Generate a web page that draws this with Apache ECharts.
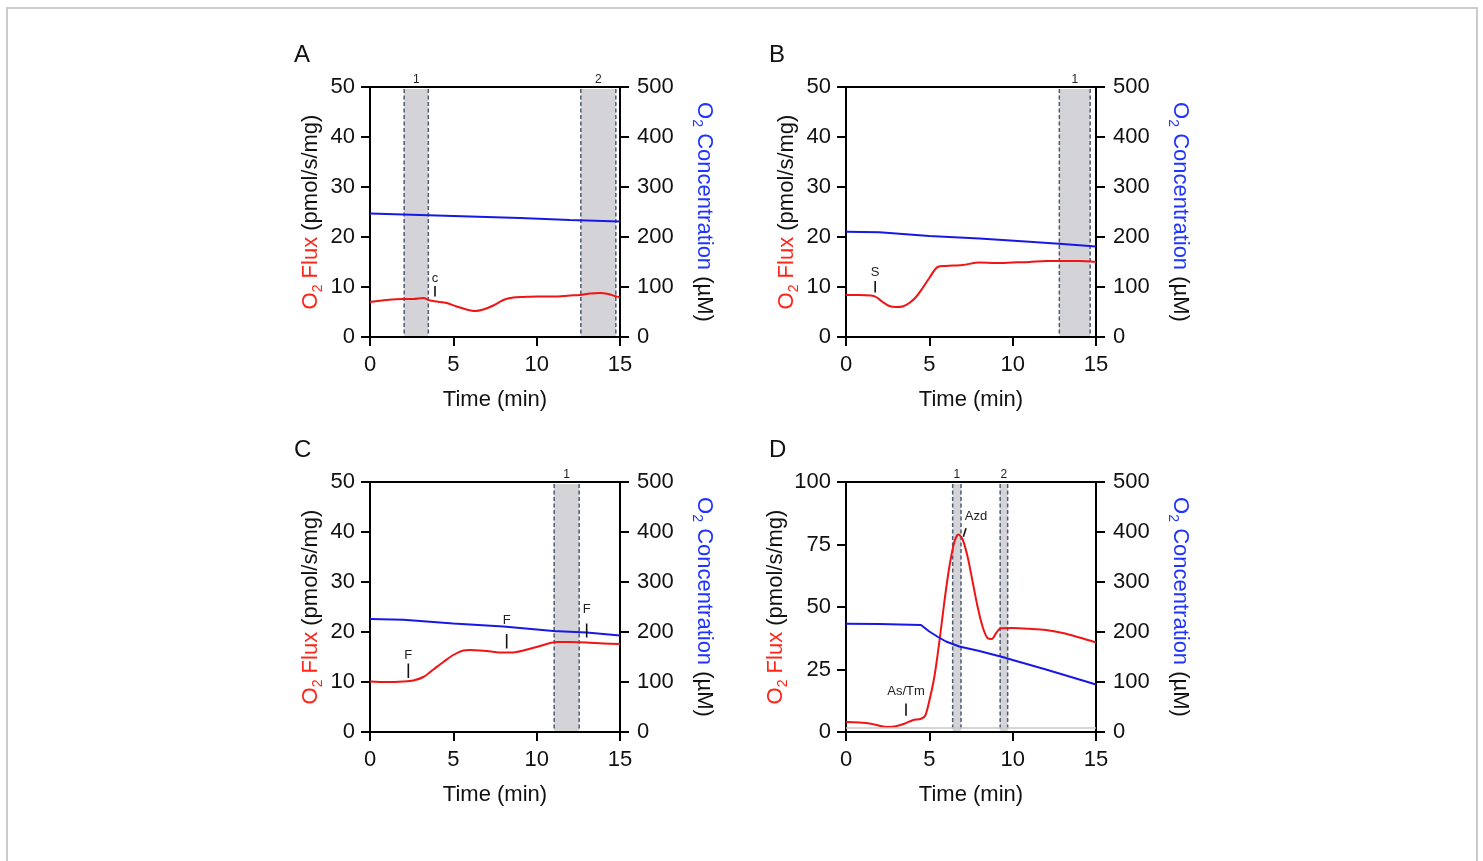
<!DOCTYPE html>
<html><head><meta charset="utf-8">
<script src="https://cdn.jsdelivr.net/npm/echarts@6/dist/echarts.min.js"></script>
<style>html,body{margin:0;padding:0;background:#fff}#c{width:1483px;height:861px}</style>
</head><body><div id="c"></div>
<script>
// ---------- DATA ----------
// Panel A
const timeA = [0,1,2,2.6,3.2,3.6,4,4.6,5.2,5.8,6.3,6.8,7.4,8,8.6,9.2,10,11,12,12.6,13.2,13.8,14.3,14.7,15];
const fluxA = [7.0,7.4,7.6,7.6,7.8,7.3,7.1,6.8,6.1,5.5,5.2,5.5,6.3,7.4,7.9,8.0,8.1,8.1,8.3,8.4,8.7,8.8,8.6,8.2,7.9];
const concTimeA = [0,3,6,9,12,15];
const concA = [247,244,241,238,234,231];
const bandsA = [[2.05,3.5],[12.65,14.75]];
const bandLabelsA = ['1','2'];
const marksA = [[3.9,8.1,3.9,10.2,3.9,11.8]];
const markLabelsA = ['c'];
// Panel B
const timeB = [0,0.8,1.5,1.8,2.2,2.6,3.0,3.4,3.8,4.2,4.6,5.0,5.5,6,7,8,9,10,11,12,13,14,15];
const fluxB = [8.4,8.4,8.3,8.0,7.0,6.2,6.0,6.1,6.8,8.0,9.8,11.8,14.0,14.2,14.4,14.9,14.8,14.9,15.0,15.2,15.2,15.2,15.0];
const concTimeB = [0,2,5,8,11,13,15];
const concB = [210.5,209.5,202,197,190.5,186,181];
const bandsB = [[12.8,14.65]];
const bandLabelsB = ['1'];
const marksB = [[1.75,8.9,1.75,11.2,1.75,12.9]];
const markLabelsB = ['S'];
// Panel C
const timeC = [0,1,2,2.6,3.2,3.8,4.4,5,5.6,6,7,8,8.6,9.2,10,10.6,11.2,12,13,14,15];
const fluxC = [10.1,10.0,10.1,10.3,11.0,12.5,14.0,15.4,16.3,16.4,16.2,15.9,15.9,16.3,17.0,17.6,18.0,18.0,17.9,17.7,17.6];
const concTimeC = [0,2,5,8,11,13,15];
const concC = [226,224.5,217,211,202,199,193];
const bandsC = [[11.05,12.55]];
const bandLabelsC = ['1'];
const marksC = [[2.3,10.8,2.3,13.7,2.3,15.4],[8.2,16.7,8.2,19.6,8.2,22.4],[13.0,18.9,13.0,21.7,13.0,24.6]];
const markLabelsC = ['F','F','F'];
// Panel D
const timeD = [0,0.8,1.5,2,2.5,3,3.5,4,4.5,4.75,5,5.3,5.6,5.9,6.2,6.5,6.75,7,7.3,7.6,7.9,8.2,8.5,8.75,9,9.3,10,11,12,13,14,15];
const fluxD = [4.0,3.8,3.3,2.5,2.0,2.3,3.3,4.7,5.3,6.5,12.5,22,36,52,66,76,79,77,70,60,50,42,37.5,37.2,39.5,41.5,41.6,41.3,40.8,39.6,37.8,35.8];
const concTimeD = [0,2,4.5,5,5.5,6,6.8,8,9.5,10,12,14,15];
const concD = [216.6,216,214,201,190.5,181,171,162,149,144,125,105,95];
const bandsD = [[6.4,6.9],[9.25,9.7]];
const bandLabelsD = ['1','2'];
const marksD = [[3.6,6.5,3.6,11.4,3.6,16.3],[7.04,78.1,7.2,81.5,7.8,86.1]];
const markLabelsD = ['As/Tm','Azd'];
const baselineD = 1.6;

// ---------- STYLE ----------
const FONT = '"Liberation Sans", Arial, Helvetica, sans-serif';
const RED = '#f01414', RED_T = '#ff2418';
const BLUE = '#1818e6', BLUE_T = '#1f35ff';
const INK = '#111';

const panels = [
  {letter:'A', left:370, top:87, fmax:50, fint:10, fT:timeA, f:fluxA, cT:concTimeA, c:concA, bands:bandsA, bl:bandLabelsA, marks:marksA, ml:markLabelsA},
  {letter:'B', left:846, top:87, fmax:50, fint:10, fT:timeB, f:fluxB, cT:concTimeB, c:concB, bands:bandsB, bl:bandLabelsB, marks:marksB, ml:markLabelsB},
  {letter:'C', left:370, top:482, fmax:50, fint:10, fT:timeC, f:fluxC, cT:concTimeC, c:concC, bands:bandsC, bl:bandLabelsC, marks:marksC, ml:markLabelsC},
  {letter:'D', left:846, top:482, fmax:100, fint:25, fT:timeD, f:fluxD, cT:concTimeD, c:concD, bands:bandsD, bl:bandLabelsD, marks:marksD, ml:markLabelsD, baseline:baselineD}
];

const grids=[], xAxes=[], yAxes=[], series=[], graphics=[];
const axisLine = {onZero:false, lineStyle:{color:'#000', width:2}};
const axisTick = {length:9, lineStyle:{color:'#000', width:2}};
const lbl = (m)=>({fontSize:22, color:INK, fontFamily:FONT, margin:m});

panels.forEach((p,i)=>{
  grids.push({left:p.left, top:p.top, width:250, height:250, show:true, borderColor:'#000', borderWidth:2, backgroundColor:'rgba(0,0,0,0)'});
  xAxes.push({gridIndex:i, type:'value', min:0, max:15, interval:5,
    name:'Time (min)', nameLocation:'middle', nameGap:52,
    nameTextStyle:{fontSize:22, color:INK, fontFamily:FONT},
    axisLine, axisTick, axisLabel:lbl(17), splitLine:{show:false}});
  yAxes.push({gridIndex:i, type:'value', position:'left', min:0, max:p.fmax, interval:p.fint,
    name:'{r|O}{rs|2}{r| Flux }{k|(pmol/s/mg)}', nameLocation:'middle', nameGap:45, nameRotate:90,
    nameTextStyle:{rich:{
      r:{color:RED_T, fontSize:22, fontFamily:FONT, lineHeight:28},
      rs:{color:RED_T, fontSize:14, fontFamily:FONT, lineHeight:15, verticalAlign:'bottom'},
      k:{color:INK, fontSize:22, fontFamily:FONT, lineHeight:28}}},
    axisLine, axisTick, axisLabel:lbl(15), splitLine:{show:false}});
  yAxes.push({gridIndex:i, type:'value', position:'right', min:0, max:500, interval:100,
    name:'{b|O}{bs|2}{b| Concentration }{k|(µM)}', nameLocation:'middle', nameGap:70, nameRotate:-90,
    nameTextStyle:{rich:{
      b:{color:BLUE_T, fontSize:22, fontFamily:FONT, lineHeight:28},
      bs:{color:BLUE_T, fontSize:14, fontFamily:FONT, lineHeight:15, verticalAlign:'bottom'},
      k:{color:INK, fontSize:22, fontFamily:FONT, lineHeight:28}}},
    axisLine, axisTick, axisLabel:lbl(17), splitLine:{show:false}});

  const fmax = p.fmax;
  // shaded analysis windows
  series.push({type:'custom', xAxisIndex:i, yAxisIndex:2*i, z:1, silent:true, clip:false,
    data:p.bands.map(b=>[b[0],b[1]]),
    renderItem:(params, api)=>{
      const x1=api.value(0), x2=api.value(1), k=params.dataIndex;
      const pb=api.coord([x1,0]), pt=api.coord([x2,fmax]);
      const top=pt[1]+2, bot=pb[1]-1;
      const ls={stroke:'#4d5a72', lineWidth:1.5, lineDash:[4,2.5]};
      return {type:'group', children:[
        {type:'rect', shape:{x:pb[0], y:top, width:pt[0]-pb[0], height:bot-top}, style:{fill:'#d3d3d8'}},
        {type:'line', shape:{x1:pb[0], y1:top, x2:pb[0], y2:bot}, style:ls},
        {type:'line', shape:{x1:pt[0], y1:top, x2:pt[0], y2:bot}, style:ls},
        {type:'text', x:(pb[0]+pt[0])/2, y:pt[1]-7, style:{text:p.bl[k], fill:'#222', fontSize:12, fontFamily:FONT, align:'center', verticalAlign:'middle'}}
      ]};
    }});
  // flux
  const fluxSeries = {type:'line', xAxisIndex:i, yAxisIndex:2*i, z:3, smooth:0.3, symbol:'none',
    data:p.fT.map((t,k)=>[t,p.f[k]]), lineStyle:{color:RED, width:2}};
  if (p.baseline !== undefined) {
    fluxSeries.markLine = {silent:true, symbol:'none', label:{show:false}, animation:false,
      lineStyle:{color:'#c9c9c9', width:1.5, type:'solid'},
      data:[[{coord:[0,p.baseline]},{coord:[15,p.baseline]}]]};
  }
  series.push(fluxSeries);
  // concentration
  series.push({type:'line', xAxisIndex:i, yAxisIndex:2*i+1, z:3, smooth:false, symbol:'none',
    data:p.cT.map((t,k)=>[t,p.c[k]]), lineStyle:{color:BLUE, width:2}});
  // injection markers
  series.push({type:'custom', xAxisIndex:i, yAxisIndex:2*i, z:4, silent:true, clip:false,
    data:p.marks.map(m=>m.slice()),
    renderItem:(params, api)=>{
      const k=params.dataIndex;
      const a=api.coord([api.value(0),api.value(1)]), b=api.coord([api.value(2),api.value(3)]);
      const t=api.coord([api.value(4),api.value(5)]);
      return {type:'group', children:[
        {type:'line', shape:{x1:a[0],y1:a[1],x2:b[0],y2:b[1]}, style:{stroke:'#111', lineWidth:1.6}},
        {type:'text', x:t[0], y:t[1], style:{text:p.ml[k], fill:'#222', fontSize:13, fontFamily:FONT, align:'center', verticalAlign:'middle'}}
      ]};
    }});
});

const letterPos = [[294,55.5],[769,55.5],[294,450],[769,450]];
panels.forEach((p,i)=>{
  graphics.push({type:'text', x:letterPos[i][0], y:letterPos[i][1],
    style:{text:p.letter, fill:INK, fontSize:24, fontFamily:FONT, align:'left', verticalAlign:'middle'}});
});
graphics.push({type:'rect', shape:{x:7, y:8, width:1470, height:900}, style:{fill:'none', stroke:'#cbcbcb', lineWidth:2}, z:-1});

const chart = echarts.init(document.getElementById('c'), null, {renderer:'canvas'});
chart.setOption({animation:false, backgroundColor:'#fff', grid:grids, xAxis:xAxes, yAxis:yAxes, series, graphic:graphics});
</script>
</body></html>
